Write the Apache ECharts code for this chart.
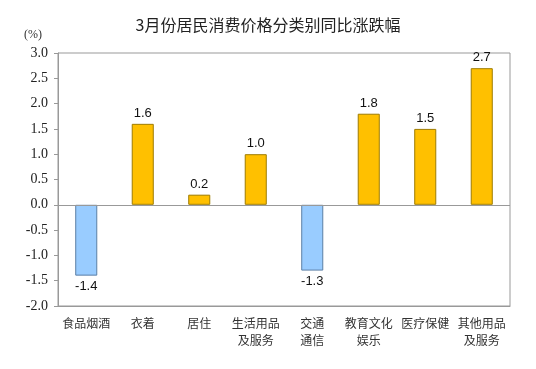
<!DOCTYPE html>
<html><head><meta charset="utf-8">
<script src="https://cdn.jsdelivr.net/npm/echarts@6/dist/echarts.min.js"></script>
<style>html,body{margin:0;padding:0;background:#fff}#c{width:536px;height:369px}</style>
</head><body><div id="c"></div>
<script>
const titleText = '3月份居民消费价格分类别同比涨跌幅';
const categories = ['食品烟酒','衣着','居住','生活用品\n及服务','交通\n通信','教育文化\n娱乐','医疗保健','其他用品\n及服务'];
const values = [-1.4, 1.6, 0.2, 1.0, -1.3, 1.8, 1.5, 2.7];
const yMin = -2, yMax = 3, yStep = 0.5;

const chart = echarts.init(document.getElementById('c'), null, {renderer:'canvas'});
chart.setOption({
  animation: false,
  backgroundColor: '#fff',
  title: {
    text: titleText, left: 'center', top: 12,
    textStyle: {fontFamily: '"Noto Sans CJK SC", sans-serif', fontSize: 16, fontWeight: 'normal', color: '#222'}
  },
  grid: {left: 58, right: 26, top: 53, bottom: 63, show: true, borderColor: '#999', borderWidth: 1},
  xAxis: {
    type: 'category', data: categories,
    axisLine: {show: true, onZero: false, lineStyle: {color: '#999'}},
    axisTick: {show: false},
    axisLabel: {interval: 0, margin: 9, lineHeight: 17, fontSize: 12, color: '#333',
      fontFamily: '"Noto Sans CJK SC", sans-serif'}
  },
  yAxis: {
    type: 'value', min: yMin, max: yMax, interval: yStep,
    name: '(%)', nameLocation: 'end', nameGap: 12,
    nameTextStyle: {fontFamily: 'Liberation Serif, Times New Roman, serif', fontSize: 12, color: '#333', align: 'center', padding: [0, 50, 0, 0]},
    axisLine: {show: true, lineStyle: {color: '#999'}},
    axisTick: {show: true, length: 4, lineStyle: {color: '#999'}},
    splitLine: {show: false},
    axisLabel: {margin: 10, fontSize: 14, color: '#222', fontFamily: 'Liberation Serif, Times New Roman, serif',
      formatter: v => v.toFixed(1)}
  },
  series: [{
    type: 'bar', barWidth: '39%',
    data: values.map(v => ({
      value: v,
      itemStyle: v >= 0 ? {color: '#FFC000', borderColor: '#9E7C00', borderWidth: 1}
                        : {color: '#99CCFF', borderColor: '#5B7FA6', borderWidth: 1},
      label: {position: v >= 0 ? 'top' : 'bottom'}
    })),
    label: {show: true, distance: 4, fontSize: 13, color: '#111', fontFamily: 'Liberation Sans, Arial, sans-serif',
      formatter: p => p.value.toFixed(1)},
    markLine: {
      silent: true, symbol: 'none', label: {show: false},
      lineStyle: {color: '#999', type: 'solid', width: 1},
      data: [{yAxis: 0}]
    }
  }]
});
</script></body></html>
